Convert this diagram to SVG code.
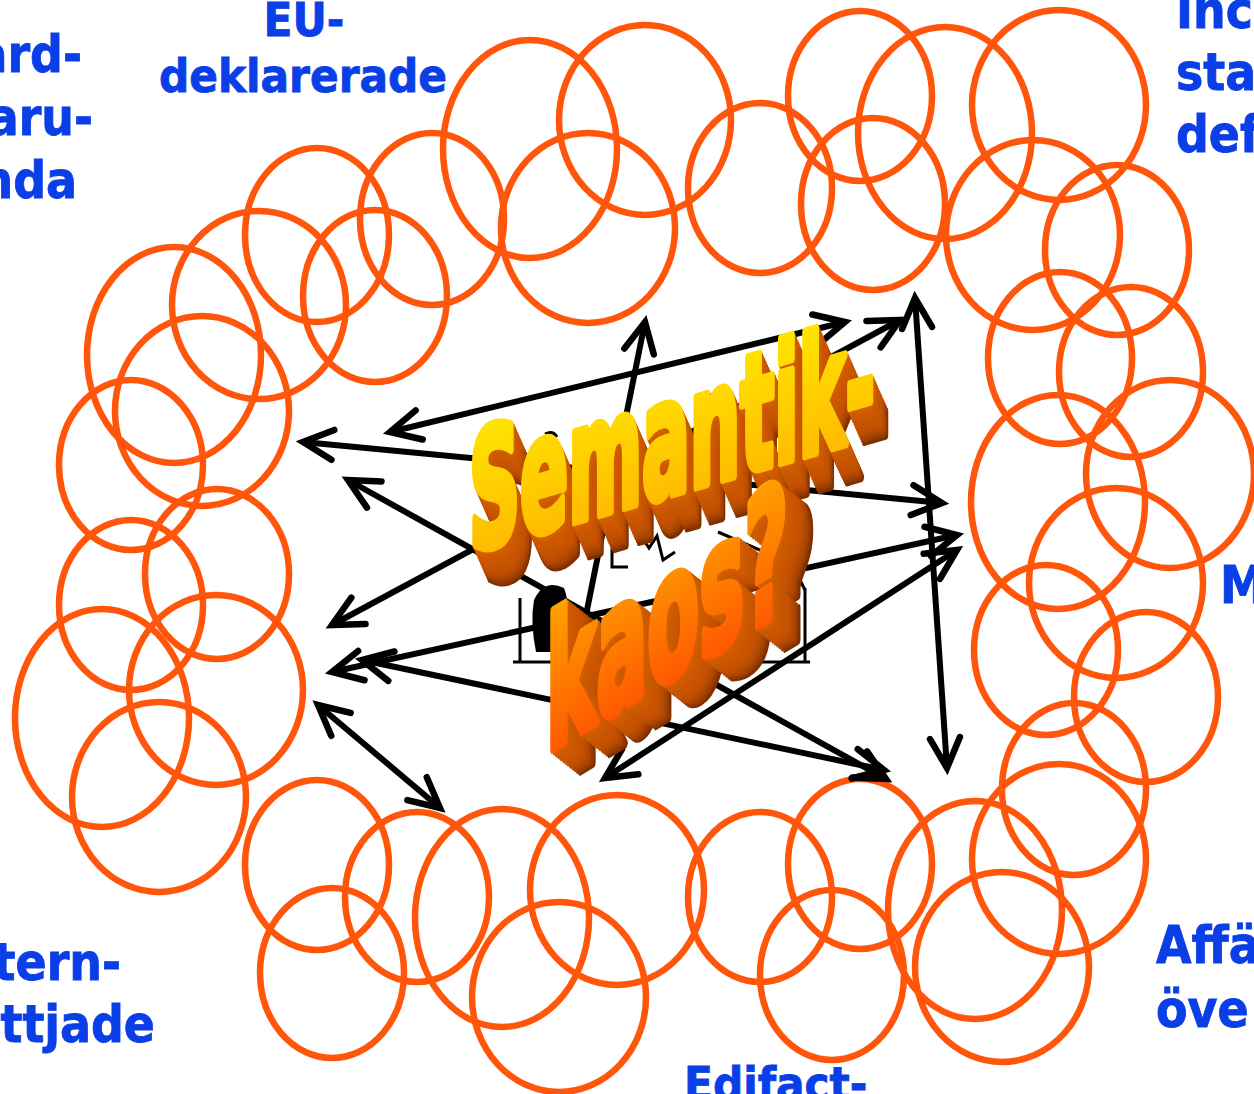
<svg xmlns="http://www.w3.org/2000/svg" xmlns:xlink="http://www.w3.org/1999/xlink" width="1254" height="1094" viewBox="0 0 1254 1094">
<style>
.c{fill:none;stroke:#FF560C;stroke-width:6.5}
.ln{fill:none;stroke:#000;stroke-width:6}
.bi{marker-start:url(#ah);marker-end:url(#ah)}
.one{marker-end:url(#ah)}
.lbl{font-family:"DejaVu Sans Condensed","DejaVu Sans",sans-serif;font-weight:bold;font-size:51px;fill:#0A3EE6;stroke:#0A3EE6;stroke-width:0.8}
.sm{font-size:47px}
.big{font-family:"DejaVu Sans Condensed","DejaVu Sans",sans-serif;font-weight:bold}
.ic{fill:none;stroke:#000;stroke-width:3}
.e1 use{stroke-width:9;stroke-linejoin:round}
</style>
<defs>
<marker id="ah" markerUnits="userSpaceOnUse" viewBox="-40 -20 45 40" refX="0" refY="0" markerWidth="45" markerHeight="40" orient="auto-start-reverse" overflow="visible">
<path d="M-30,-15 L0,0 L-30,15" fill="none" stroke="#000" stroke-width="6.5" stroke-linecap="round"/>
</marker>
<linearGradient id="gy" x1="0" y1="0" x2="0" y2="1">
<stop offset="0" stop-color="#FFEC00"/><stop offset="1" stop-color="#FFB000"/>
</linearGradient>
<linearGradient id="go" x1="0" y1="0" x2="0" y2="1">
<stop offset="0" stop-color="#FFAE00"/><stop offset="1" stop-color="#FF4600"/>
</linearGradient>
<text id="t1" class="big" transform="translate(469,552) skewY(-16)" font-size="163" textLength="406" lengthAdjust="spacingAndGlyphs">Semantik-</text>
<text id="t2" class="big" transform="translate(546,753) skewY(-31)" font-size="182" textLength="242" lengthAdjust="spacingAndGlyphs">kaos?</text>
</defs>
<rect width="1254" height="1094" fill="#fff"/>
<g id="clouds">
<ellipse class="c" cx="645" cy="120" rx="86" ry="95"/>
<ellipse class="c" cx="530" cy="149" rx="87" ry="109"/>
<ellipse class="c" cx="588" cy="228" rx="87" ry="95"/>
<ellipse class="c" cx="432" cy="219" rx="72" ry="86"/>
<ellipse class="c" cx="317" cy="235" rx="72" ry="87"/>
<ellipse class="c" cx="375" cy="296" rx="72" ry="86"/>
<ellipse class="c" cx="760" cy="188" rx="72" ry="85"/>
<ellipse class="c" cx="860" cy="96" rx="72" ry="85"/>
<ellipse class="c" cx="945" cy="133" rx="87" ry="106"/>
<ellipse class="c" cx="873" cy="204" rx="72" ry="86"/>
<ellipse class="c" cx="1059" cy="105" rx="87" ry="95"/>
<ellipse class="c" cx="1033" cy="235" rx="87" ry="95"/>
<ellipse class="c" cx="1117" cy="250" rx="72" ry="85"/>
<ellipse class="c" cx="1060" cy="358" rx="72" ry="86"/>
<ellipse class="c" cx="1131" cy="372" rx="72" ry="85"/>
<ellipse class="c" cx="1170" cy="474" rx="84" ry="94"/>
<ellipse class="c" cx="1058" cy="502" rx="87" ry="107"/>
<ellipse class="c" cx="1116" cy="583" rx="87" ry="95"/>
<ellipse class="c" cx="1046" cy="650" rx="72" ry="85"/>
<ellipse class="c" cx="1146" cy="697" rx="72" ry="85"/>
<ellipse class="c" cx="1074" cy="789" rx="72" ry="86"/>
<ellipse class="c" cx="1059" cy="859" rx="87" ry="95"/>
<ellipse class="c" cx="975" cy="910" rx="87" ry="109"/>
<ellipse class="c" cx="1002" cy="967" rx="87" ry="95"/>
<ellipse class="c" cx="860" cy="864" rx="72" ry="85"/>
<ellipse class="c" cx="760" cy="897" rx="72" ry="85"/>
<ellipse class="c" cx="832" cy="975" rx="72" ry="85"/>
<ellipse class="c" cx="617" cy="890" rx="87" ry="95"/>
<ellipse class="c" cx="502" cy="918" rx="87" ry="109"/>
<ellipse class="c" cx="559" cy="997" rx="87" ry="95"/>
<ellipse class="c" cx="417" cy="897" rx="72" ry="85"/>
<ellipse class="c" cx="317" cy="865" rx="72" ry="85"/>
<ellipse class="c" cx="332" cy="973" rx="72" ry="85"/>
<ellipse class="c" cx="216" cy="690" rx="87" ry="95"/>
<ellipse class="c" cx="102" cy="718" rx="87" ry="109"/>
<ellipse class="c" cx="159" cy="797" rx="87" ry="95"/>
<ellipse class="c" cx="131" cy="605" rx="72" ry="85"/>
<ellipse class="c" cx="217" cy="574" rx="72" ry="85"/>
<ellipse class="c" cx="131" cy="465" rx="72" ry="85"/>
<ellipse class="c" cx="202" cy="411" rx="87" ry="95"/>
<ellipse class="c" cx="174" cy="355" rx="87" ry="108"/>
<ellipse class="c" cx="259" cy="305" rx="87" ry="94"/>
</g>
<g id="icon">
<line class="ic" x1="513" y1="662" x2="810" y2="662" stroke-width="4"/>
<line class="ic" x1="520" y1="598" x2="520" y2="662"/>
<line class="ic" x1="805" y1="588" x2="805" y2="662"/>
<path class="ic" d="M718,532 L760,550 L800,580 L805,590"/>
<path class="ic" d="M612,548 L612,567 L628,567 M637,530 L649,548 L657,536 L663,560 L675,552"/>
<path d="M545,434 q8,-4 12,3" class="ic"/>
<path d="M534,600 q10,-22 30,-12 q8,20 -4,40 l6,24 l-30,0 q-6,-30 -2,-52 z" fill="#000"/>
</g>
<g id="connectors">
<line class="ln bi" x1="303" y1="442" x2="942" y2="503"/>
<line class="ln bi" x1="390" y1="432" x2="845" y2="322"/>
<line class="ln one" x1="585" y1="620" x2="645" y2="322"/>
<line class="ln bi" x1="332" y1="625" x2="900" y2="320"/>
<line class="ln bi" x1="348" y1="480" x2="886" y2="779"/>
<line class="ln bi" x1="332" y1="672" x2="957" y2="535"/>
<line class="ln bi" x1="362" y1="660" x2="884" y2="770"/>
<line class="ln bi" x1="605" y1="778" x2="957" y2="550"/>
<line class="ln bi" x1="318" y1="705" x2="440" y2="808"/>
<line class="ln bi" x1="915" y1="298" x2="947" y2="768"/>
</g>
<g id="title">
<g id="sem-ext" class="e1">
<use xlink:href="#t1" x="15" y="34" fill="#7E3000" stroke="#7E3000"/>
<use xlink:href="#t1" x="13.8" y="31" fill="#953A00" stroke="#953A00"/>
<use xlink:href="#t1" x="12.5" y="28.3" fill="#A84300" stroke="#A84300"/>
<use xlink:href="#t1" x="11.3" y="25.5" fill="#B44900" stroke="#B44900"/>
<use xlink:href="#t1" x="10" y="22.7" fill="#BE4E00" stroke="#BE4E00"/>
<use xlink:href="#t1" x="8.8" y="19.8" fill="#C45100" stroke="#C45100"/>
<use xlink:href="#t1" x="7.5" y="17" fill="#C65300" stroke="#C65300"/>
<use xlink:href="#t1" x="6.3" y="14.2" fill="#C85400" stroke="#C85400"/>
<use xlink:href="#t1" x="5" y="11.3" fill="#CA5600" stroke="#CA5600"/>
<use xlink:href="#t1" x="3.8" y="8.5" fill="#CC5800" stroke="#CC5800"/>
<use xlink:href="#t1" x="2.5" y="5.7" fill="#CE5A00" stroke="#CE5A00"/>
<use xlink:href="#t1" x="1.3" y="2.8" fill="#D25E00" stroke="#D25E00"/>
</g>
<use id="sem-front" xlink:href="#t1" fill="url(#gy)" stroke="url(#gy)" stroke-width="9" stroke-linejoin="round"/>
<g id="kaos-ext" class="e1">
<use xlink:href="#t2" x="28" y="22" fill="#7E3000" stroke="#7E3000"/>
<use xlink:href="#t2" x="25.7" y="20.2" fill="#953A00" stroke="#953A00"/>
<use xlink:href="#t2" x="23.3" y="18.3" fill="#A84300" stroke="#A84300"/>
<use xlink:href="#t2" x="21" y="16.5" fill="#B44900" stroke="#B44900"/>
<use xlink:href="#t2" x="18.7" y="14.7" fill="#BE4E00" stroke="#BE4E00"/>
<use xlink:href="#t2" x="16.3" y="12.8" fill="#C45100" stroke="#C45100"/>
<use xlink:href="#t2" x="14" y="11" fill="#C65300" stroke="#C65300"/>
<use xlink:href="#t2" x="11.7" y="9.2" fill="#C85400" stroke="#C85400"/>
<use xlink:href="#t2" x="9.3" y="7.3" fill="#CA5600" stroke="#CA5600"/>
<use xlink:href="#t2" x="7" y="5.5" fill="#CC5800" stroke="#CC5800"/>
<use xlink:href="#t2" x="4.7" y="3.7" fill="#CE5A00" stroke="#CE5A00"/>
<use xlink:href="#t2" x="2.3" y="1.8" fill="#D25E00" stroke="#D25E00"/>
</g>
<use id="kaos-front" xlink:href="#t2" fill="url(#go)" stroke="url(#go)" stroke-width="9" stroke-linejoin="round"/>
</g>
<g id="label-standard"><text class="lbl" text-anchor="end" x="82" y="72">ard-</text><text class="lbl" text-anchor="end" x="93" y="135">aru-</text><text class="lbl" text-anchor="end" x="77" y="198">nda</text></g>
<g id="label-eu"><text class="lbl sm" text-anchor="middle" x="304" y="36">EU-</text><text class="lbl sm" text-anchor="middle" x="303" y="92">deklarerade</text></g>
<g id="label-ind"><text class="lbl" x="1176" y="28">Inc</text><text class="lbl" x="1176" y="90">sta</text><text class="lbl" x="1176" y="152">def</text></g>
<g id="label-m"><text class="lbl" x="1220" y="603">M</text></g>
<g id="label-aff"><text class="lbl" x="1156" y="963">Affä</text><text class="lbl" x="1156" y="1027">öve</text></g>
<g id="label-intern"><text class="lbl" text-anchor="end" x="121" y="980">tern-</text><text class="lbl" text-anchor="end" x="155" y="1042">ttjade</text></g>
<g id="label-edifact"><text class="lbl sm" x="684" y="1100">Edifact-</text></g>
</svg>
